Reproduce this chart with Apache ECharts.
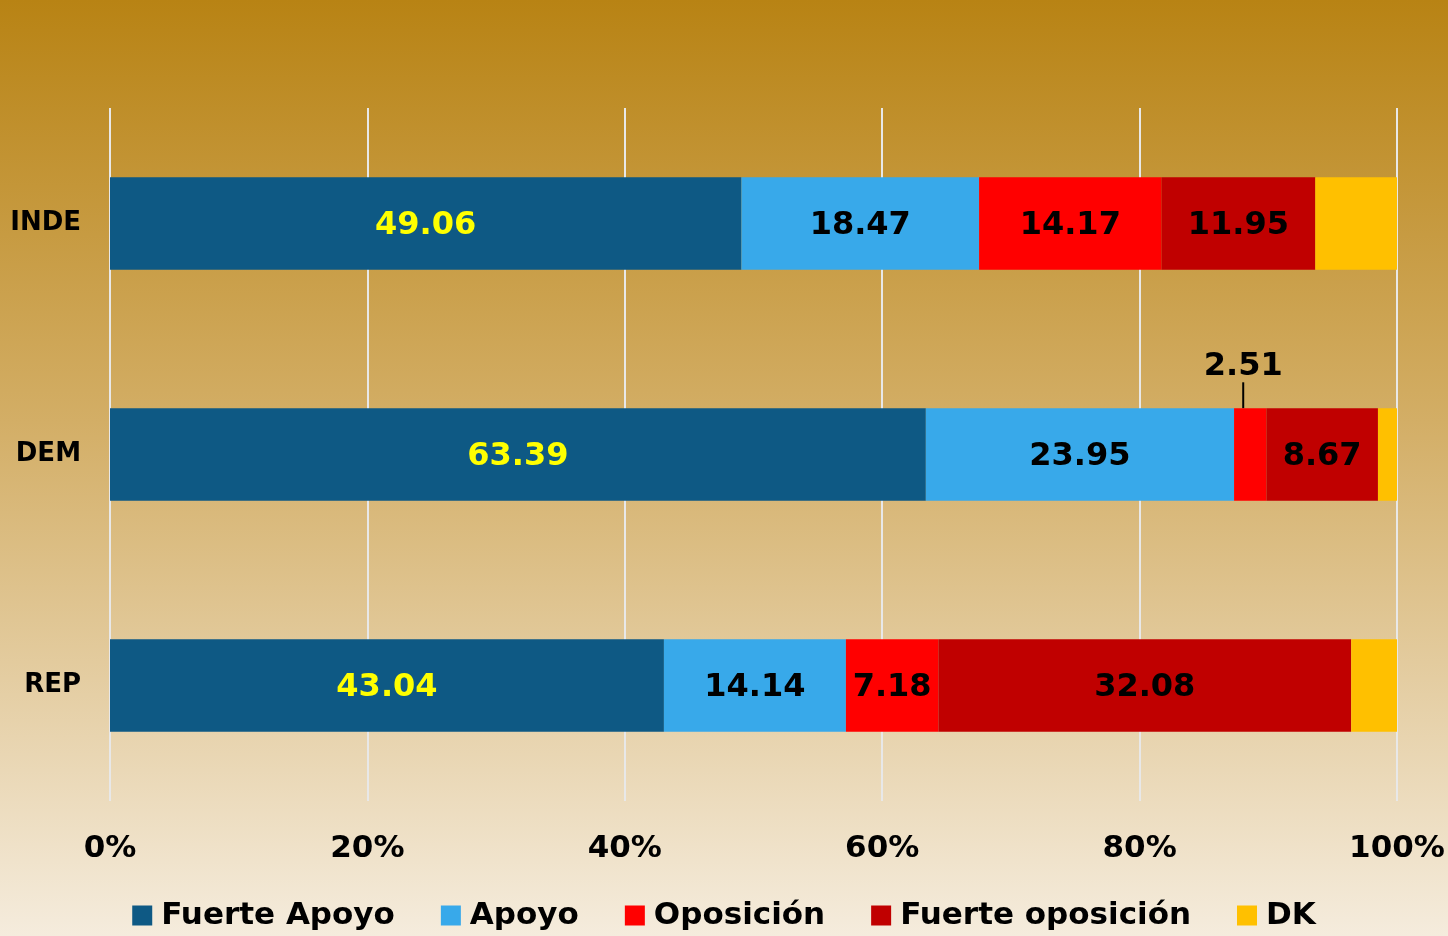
<!DOCTYPE html>
<html>
<head>
<meta charset="utf-8">
<script src="https://cdn.jsdelivr.net/npm/echarts@6/dist/echarts.min.js"></script>
<style>
  html, body { margin: 0; padding: 0; }
  #main { width: 1448px; height: 936px; }
</style>
</head>
<body>
<div id="main"></div>
<script>
var myChart = echarts.init(document.getElementById('main'));

var groups = ['INDE', 'DEM', 'REP'];
var fuerteApoyo = [49.06, 63.39, 43.04];
var apoyo = [18.47, 23.95, 14.14];
var oposicion = [14.17, 2.51, 7.18];
var fuerteOposicion = [11.95, 8.67, 32.08];
var dk = [6.35, 1.48, 3.56];
var xTicks = [0, 20, 40, 60, 80, 100];

var labelFont = 'DejaVu Sans';

function barSeries(name, values, color, textColor, showLabel) {
    return {
        name: name,
        type: 'bar',
        stack: 'total',
        barCategoryGap: '60%',
        data: values,
        itemStyle: { color: color },
        label: {
            show: showLabel,
            position: 'inside',
            offset: [0, 2],
            color: textColor,
            fontFamily: labelFont,
            fontWeight: 'bold',
            fontSize: 32
        }
    };
}

var series = [
    barSeries('Fuerte Apoyo', fuerteApoyo, '#0e5984', '#ffff00', true),
    barSeries('Apoyo', apoyo, '#38a9ea', '#000', true),
    barSeries('Oposición', oposicion, '#ff0000', '#000', true),
    barSeries('Fuerte oposición', fuerteOposicion, '#c00000', '#000', true),
    barSeries('DK', dk, '#ffc000', '#000', false)
];

// the small DEM opposition value sits above its bar with a leader line
series[2].data = oposicion.map(function (v, i) {
    if (groups[i] === 'DEM') {
        return { value: v, label: { position: 'top', distance: 4 }, labelLine: { show: true, lineStyle: { color: '#000', width: 2 } } };
    }
    return v;
});
series[2].labelLayout = function (p) {
    if (p.dataIndex === 1) return { dx: -7, dy: -22 };
    return { dy: 2 };
};

option = {
    backgroundColor: new echarts.graphic.LinearGradient(0, 0, 0, 1, [
        { offset: 0, color: '#b88314' },
        { offset: 0.45, color: '#d3ae66' },
        { offset: 1, color: '#f5ecdd' }
    ]),
    animation: false,
    grid: {
        left: 110,
        right: 51,
        top: 108,
        bottom: 135
    },
    legend: {
        bottom: 0,
        left: 'center',
        itemWidth: 20,
        itemHeight: 20,
        itemGap: 46,
        icon: 'rect',
        textStyle: {
            fontFamily: 'DejaVu Sans',
            fontWeight: 'bold',
            fontSize: 31,
            color: '#000',
            padding: [0, 0, 0, 4]
        },
        data: ['Fuerte Apoyo', 'Apoyo', 'Oposición', 'Fuerte oposición', 'DK']
    },
    xAxis: {
        type: 'value',
        min: xTicks[0],
        max: xTicks[xTicks.length - 1],
        interval: 20,
        axisLine: { show: false },
        axisTick: { show: false },
        splitLine: { lineStyle: { color: '#e8e8e8', width: 2 } },
        axisLabel: {
            formatter: '{value}%',
            margin: 32,
            fontFamily: 'DejaVu Sans',
            fontWeight: 'bold',
            fontSize: 31,
            color: '#000'
        }
    },
    yAxis: {
        type: 'category',
        data: groups,
        inverse: true,
        axisLine: { show: false },
        axisTick: { show: false },
        axisLabel: {
            margin: 29,
            fontFamily: 'DejaVu Sans',
            fontWeight: 'bold',
            fontSize: 26,
            color: '#000'
        }
    },
    series: series
};

myChart.setOption(option);
</script>
</body>
</html>
